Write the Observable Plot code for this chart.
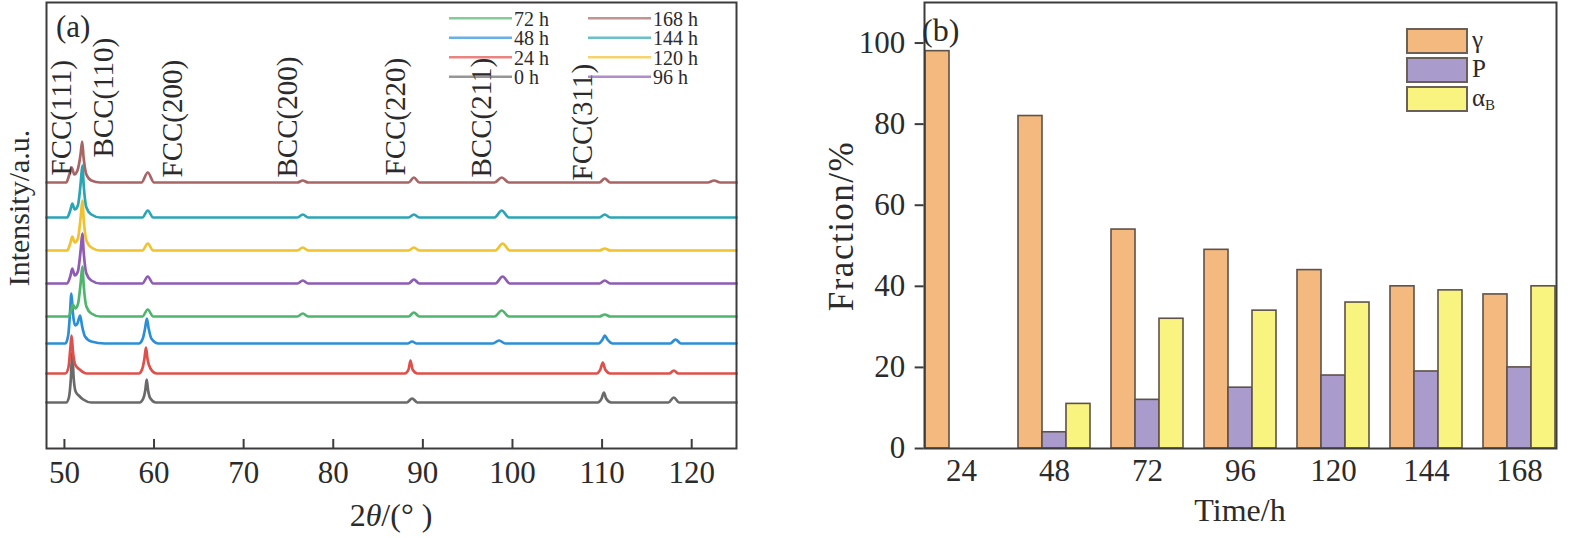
<!DOCTYPE html>
<html><head><meta charset="utf-8">
<script src="https://cdn.jsdelivr.net/npm/d3@7"></script>
<script src="https://cdn.jsdelivr.net/npm/@observablehq/plot@0.6"></script>
<style>
html,body{margin:0;padding:0;background:#fff;}
#wrap{position:relative;width:1569px;height:538px;display:flex;}
#wrap > svg{display:block;flex:none;}
#overlay{position:absolute;left:0;top:0;pointer-events:none;}
</style></head><body><div id="wrap"></div>
<script>
// ---------- Panel (a): XRD patterns ----------
const seriesNames = ["0 h","24 h","48 h","72 h","96 h","120 h","144 h","168 h"];
const seriesColors = ["#6a6a6a","#e0504a","#2a8fd8","#4fb56e","#8e5bb5","#f2c12e","#2aa5b5","#a86565"];
const seriesOffsets = [46, 75, 105, 132, 165, 198, 231, 266];
const p0h = [[48,0],[50.2,0],[50.5,5],[50.72,24],[50.88,50],[51.02,26],[51.25,11],[51.6,7],[52.1,3],[53,0],[58.4,0],[58.8,4],[59.02,12],[59.18,23],[59.34,12],[59.6,4],[60.2,0],[88.2,0],[88.8,4],[89.4,0],[109.5,0],[109.95,4],[110.2,10],[110.45,4],[111,0],[117.4,0],[118,5],[118.6,0],[125,0]];
const p24h = [[48,0],[50.1,0],[50.45,6],[50.65,24],[50.8,38],[50.95,22],[51.2,9],[51.7,4],[52.5,0],[58.3,0],[58.7,5],[58.93,15],[59.1,26],[59.28,14],[59.6,5],[60.3,0],[88,0],[88.4,4],[88.62,13],[88.85,4],[89.4,0],[109.4,0],[109.8,4],[110.08,11],[110.35,4],[110.9,0],[117.5,0],[118,3],[118.5,0],[125,0]];
const p48h = [[48,0],[50.1,0],[50.42,8],[50.62,30],[50.78,50],[50.95,30],[51.2,18],[51.45,20],[51.75,28],[51.98,17],[52.3,7],[53,2],[54.5,0],[58.3,0],[58.75,5],[59.0,15],[59.2,25],[59.4,15],[59.7,5],[60.5,0],[88.3,0],[88.8,2],[89.3,0],[97.8,0],[98.5,3],[99.2,0],[109.6,0],[110.05,4],[110.3,8],[110.6,4],[111.2,0],[117.6,0],[118.2,4],[118.8,0],[125,0]];
const p72h = [[48,0],[50.4,0],[50.75,6],[50.95,12],[51.2,8],[51.5,12],[51.82,34],[52.0,50],[52.16,30],[52.45,10],[53,3],[54,0],[58.7,0],[59.3,7],[59.9,0],[76,0],[76.6,3],[77.2,0],[88.4,0],[89,4],[89.6,0],[98,0],[98.8,6],[99.6,0],[109.7,0],[110.3,2],[110.9,0],[125,0]];
const p96h = [[48,0],[50.3,0],[50.65,7],[50.88,15],[51.15,8],[51.5,12],[51.82,34],[52.0,50],[52.16,30],[52.45,10],[53,3],[54,0],[58.7,0],[59.3,7],[59.9,0],[76,0],[76.6,3],[77.2,0],[88.4,0],[89,4],[89.6,0],[98.1,0],[98.9,7],[99.7,0],[109.7,0],[110.3,3],[110.9,0],[125,0]];
const p120h = [[48,0],[50.3,0],[50.65,7],[50.88,14],[51.15,8],[51.5,12],[51.82,34],[52.0,50],[52.16,30],[52.45,10],[53,3],[54,0],[58.7,0],[59.3,7],[59.9,0],[76,0],[76.6,3],[77.2,0],[88.4,0],[89,3],[89.6,0],[98.1,0],[98.9,7],[99.7,0],[109.7,0],[110.3,2],[110.9,0],[125,0]];
const p144h = [[48,0],[50.3,0],[50.65,7],[50.88,14],[51.15,8],[51.5,12],[51.82,35],[52.0,52],[52.16,31],[52.45,10],[53,3],[54,0],[58.7,0],[59.3,7],[59.9,0],[76,0],[76.6,3],[77.2,0],[88.4,0],[89,3],[89.6,0],[98,0],[98.8,7],[99.6,0],[109.7,0],[110.3,3],[110.9,0],[125,0]];
const p168h = [[48,0],[50.2,0],[50.55,8],[50.82,15],[51.1,8],[51.45,12],[51.8,28],[51.98,41],[52.14,25],[52.45,8],[53,2],[54,0],[58.6,0],[59.3,10],[60,0],[76,0],[76.6,2],[77.2,0],[88.4,0],[89,5],[89.6,0],[98,0],[98.8,5],[99.6,0],[109.7,0],[110.3,4],[110.9,0],[121.8,0],[122.5,2],[123.2,0],[125,0]];
const patterns = [p0h, p24h, p48h, p72h, p96h, p120h, p144h, p168h];
const peakLabels = ["FCC(111)","BCC(110)","FCC(200)","BCC(200)","FCC(220)","BCC(211)","FCC(311)"];
const peakLabelX = [49.7, 54.4, 62.1, 74.9, 87.0, 96.6, 107.8];
const peakLabelY = [273, 291, 271, 271, 273, 271, 268];
const xTicks = [50, 60, 70, 80, 90, 100, 110, 120];
const legendColumns = [["72 h","48 h","24 h","0 h"],["168 h","144 h","120 h","96 h"]];

// ---------- Panel (b): phase fractions ----------
const times = [24, 48, 72, 96, 120, 144, 168];
const phases = ["γ", "P", "αB"];
const gammaFraction = [98, 82, 54, 49, 44, 40, 38];
const pearliteFraction = [0, 4, 12, 15, 18, 19, 20];
const bainiteFraction = [0, 11, 32, 34, 36, 39, 40];
const phaseColors = ["#f3b97e", "#a99bcb", "#f9f47f"];
const yTicks = [0, 20, 40, 60, 80, 100];

const FONT = '"Liberation Serif","Times New Roman",serif';
const INK = "#2b2b2b";
const FRAME = "#3c3c3c";

const xrd = patterns.flatMap((pts, i) =>
  pts.map(([t, v]) => ({series: seriesNames[i], t, v: v + seriesOffsets[i]})));

const left = Plot.plot({
  width: 760, height: 538,
  marginLeft: 46, marginRight: 24, marginTop: 2, marginBottom: 90,
  style: {fontFamily: FONT, color: INK, background: "transparent", overflow: "visible"},
  x: {domain: [48, 125]},
  y: {domain: [0, 446], axis: null},
  color: {domain: seriesNames, range: seriesColors},
  marks: [
    Plot.line(xrd, {x: "t", y: "v", z: "series", stroke: "series", strokeWidth: 2.7, curve: "monotone-x"}),
    Plot.text(peakLabels, {x: (d, i) => peakLabelX[i], y: (d, i) => peakLabelY[i], text: d => d,
      rotate: -90, textAnchor: "start", fontSize: 29, fill: INK}),
    Plot.frame({stroke: FRAME, strokeWidth: 2}),
    Plot.axisX({ticks: xTicks, tickSize: -9, tickPadding: 21, label: null, stroke: FRAME, strokeWidth: 2, fontSize: 31})
  ]
});

const rows = times.flatMap((t, i) => [
  {time: t, phase: phases[0], value: gammaFraction[i]},
  {time: t, phase: phases[1], value: pearliteFraction[i]},
  {time: t, phase: phases[2], value: bainiteFraction[i]}
]).filter(d => d.value > 0);

const RW = 809, RML = 153, RMR = 2, PI = 0.2, PO = 0.1;
// the y axis is drawn in the first facet; shift it back to the outer frame edge
const fxStep = (RW - RML - RMR) / (times.length - PI + 2 * PO);
const yAxisShift = -PO * fxStep;

const right = Plot.plot({
  width: RW, height: 538,
  marginLeft: RML, marginRight: RMR, marginTop: 2, marginBottom: 90,
  style: {fontFamily: FONT, color: INK, background: "transparent", overflow: "visible"},
  fx: {domain: times, paddingInner: PI, paddingOuter: PO, label: null},
  x: {domain: phases, padding: 0, axis: null},
  y: {domain: [0, 110], label: null},
  color: {domain: phases, range: phaseColors},
  marks: [
    Plot.barY(rows, {fx: "time", x: "phase", y: "value", fill: "phase", stroke: "#5e5249", strokeWidth: 1.6}),
    Plot.axisFx({anchor: "bottom", tickSize: 0, tickPadding: 10, label: null, fontSize: 31}),
    Plot.frame({facet: "super", stroke: FRAME, strokeWidth: 2}),
    Plot.axisY({ticks: yTicks, tickSize: -9, tickPadding: 19, dx: yAxisShift, label: null, stroke: FRAME, strokeWidth: 2, fontSize: 31})
  ]
});

const wrap = document.getElementById("wrap");
wrap.appendChild(left);
wrap.appendChild(right);

// ---------- Overlay: titles, panel letters, legends ----------
const ov = d3.create("svg").attr("id", "overlay").attr("width", 1569).attr("height", 538)
  .attr("font-family", FONT).attr("fill", INK);

ov.append("text").attr("x", 56).attr("y", 37).attr("font-size", 31).text("(a)");
ov.append("text").attr("x", 922).attr("y", 41).attr("font-size", 32).text("(b)");

ov.append("text").attr("transform", "translate(29,208) rotate(-90)").attr("text-anchor", "middle")
  .attr("font-size", 30).text("Intensity/a.u.");
ov.append("text").attr("transform", "translate(853,226) rotate(-90)").attr("text-anchor", "middle")
  .attr("font-size", 35).style("letter-spacing", "1.5px").text("Fraction/%");

const xt = ov.append("text").attr("x", 391).attr("y", 526).attr("text-anchor", "middle").attr("font-size", 32);
xt.append("tspan").text("2");
xt.append("tspan").attr("font-style", "italic").text("θ");
xt.append("tspan").text("/(° )");
ov.append("text").attr("x", 1240).attr("y", 521).attr("text-anchor", "middle").attr("font-size", 32).text("Time/h");

// legend (a)
const colX = [449, 588];
legendColumns.forEach((col, c) => {
  col.forEach((name, r) => {
    const y = 18.3 + r * 19.5;
    const color = seriesColors[seriesNames.indexOf(name)];
    ov.append("line").attr("x1", colX[c]).attr("x2", colX[c] + 63).attr("y1", y).attr("y2", y)
      .attr("stroke", color).attr("stroke-width", 2.6).attr("stroke-opacity", 0.7);
    ov.append("text").attr("x", colX[c] + 65).attr("y", y + 7.5).attr("font-size", 20).text(name);
  });
});

// legend (b)
phases.forEach((ph, i) => {
  const y = 29 + i * 29;
  ov.append("rect").attr("x", 1407).attr("y", y).attr("width", 60).attr("height", 24)
    .attr("fill", phaseColors[i]).attr("stroke", "#6b6055").attr("stroke-width", 2);
  const t = ov.append("text").attr("x", 1472).attr("y", y + 19).attr("font-size", 25);
  if (ph === "αB") {
    t.append("tspan").text("α");
    t.append("tspan").attr("font-size", 15).attr("dy", 4).text("B");
  } else {
    t.text(ph);
  }
});

wrap.appendChild(ov.node());
</script></body></html>
